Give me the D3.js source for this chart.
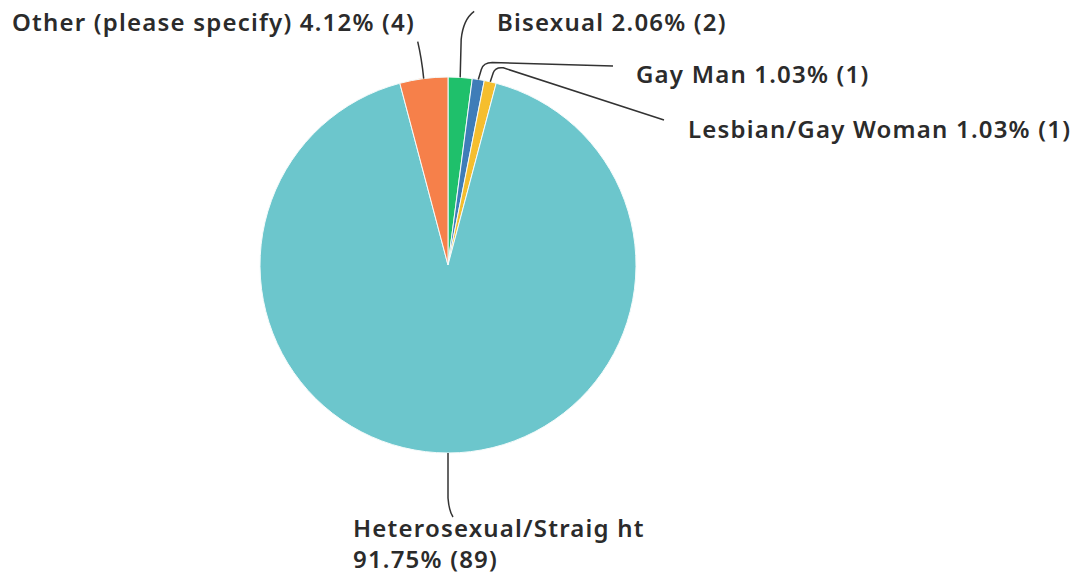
<!DOCTYPE html>
<html>
<head>
<meta charset="utf-8">
<script src="https://cdn.jsdelivr.net/npm/d3@7"></script>
<style>
  html, body { margin: 0; padding: 0; background: #fff; }
  svg { display: block; }
  .lbl { font-family: "Noto Sans", "Open Sans", sans-serif; font-weight: 600; font-size: 24px; letter-spacing: 1.2px; fill: #2b2b2b; }
</style>
</head>
<body>
<svg id="chart" width="1072" height="578"></svg>
<script>
// Survey responses, in clockwise order from 12 o'clock
const categories = ["Bisexual", "Gay Man", "Lesbian/Gay Woman", "Heterosexual/Straig ht", "Other (please specify)"];
const counts = [2, 1, 1, 89, 4];
const percents = ["2.06%", "1.03%", "1.03%", "91.75%", "4.12%"];
const colors = ["#1fc06b", "#3f7db8", "#f5be2e", "#6cc6cc", "#f6804a"];

const width = 1072, height = 578;
const cx = 448, cy = 265, radius = 188;

const svg = d3.select("#chart");
const g = svg.append("g").attr("transform", `translate(${cx},${cy})`);

const pie = d3.pie().sort(null).value(d => d.count);
const arc = d3.arc().innerRadius(0).outerRadius(radius);

const data = categories.map((c, i) => ({ name: c, count: counts[i], pct: percents[i], color: colors[i] }));
const arcs = pie(data);

g.selectAll("path.slice")
  .data(arcs)
  .join("path")
  .attr("class", "slice")
  .attr("d", arc)
  .attr("fill", d => d.data.color)
  .attr("stroke", "#f4fbfb")
  .attr("stroke-width", 1);

// Label placement: leader line shape and text anchor per slice
const layout = {
  "Bisexual":               { path: (p) => `M${p[0]},${p[1]} L${p[0] + 1},${p[1] - 38} Q${p[0] + 3},${p[1] - 58} ${p[0] + 14},${p[1] - 66}`, text: [497, 31] },
  "Gay Man":                { path: (p) => `M${p[0]},${p[1]} L${p[0] + 3},${p[1] - 10} Q${p[0] + 5},${p[1] - 17} ${p[0] + 14},${p[1] - 17} L613,66`, text: [636, 83] },
  "Lesbian/Gay Woman":      { path: (p) => `M${p[0]},${p[1]} L${p[0] + 3},${p[1] - 9} Q${p[0] + 5},${p[1] - 15} ${p[0] + 13},${p[1] - 14} L664,120`, text: [688, 138] },
  "Heterosexual/Straig ht": { angle: Math.PI, path: (p) => `M${p[0]},${p[1]} L${p[0]},${p[1] + 45} Q${p[0] + 1},${p[1] + 58} ${p[0] + 5},${p[1] + 64}`, text: [353, 537], twoLine: true },
  "Other (please specify)": { path: (p) => `M${p[0]},${p[1]} Q${p[0] - 2},${p[1] - 20} ${p[0] - 6},${p[1] - 37}`, text: [12, 31] }
};

function edgePoint(a) {
  return [cx + radius * Math.sin(a), cy - radius * Math.cos(a)];
}

const labels = svg.append("g");
arcs.forEach(d => {
  const cfg = layout[d.data.name];
  const a = cfg.angle !== undefined ? cfg.angle : (d.startAngle + d.endAngle) / 2;
  const p = edgePoint(a);
  labels.append("path")
    .attr("d", cfg.path(p))
    .attr("fill", "none")
    .attr("stroke", "#333")
    .attr("stroke-width", 1.5);
  const t = labels.append("text")
    .attr("class", "lbl")
    .attr("x", cfg.text[0])
    .attr("y", cfg.text[1]);
  if (cfg.twoLine) {
    t.append("tspan").attr("x", cfg.text[0]).text(d.data.name);
    t.append("tspan").attr("x", cfg.text[0]).attr("dy", 31).text(`${d.data.pct} (${d.data.count})`);
  } else {
    t.text(`${d.data.name} ${d.data.pct} (${d.data.count})`);
  }
});
</script>
</body>
</html>
